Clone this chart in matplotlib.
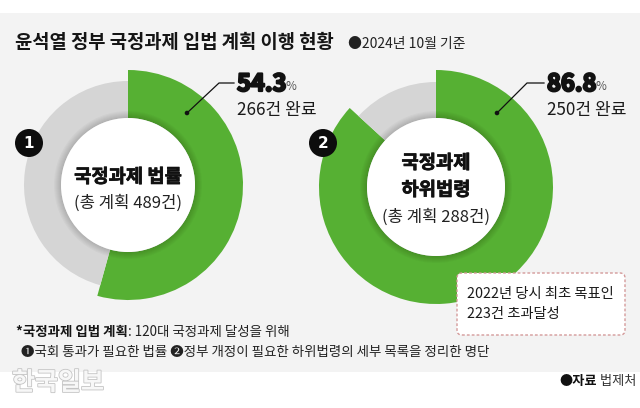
import matplotlib.pyplot as plt
from matplotlib.patches import Circle, Rectangle, FancyBboxPatch
import matplotlib.patheffects as pe

plt.rcParams['font.family'] = ['Noto Sans CJK KR', 'DejaVu Sans']

# data
categories = ['국정과제 법률', '국정과제\n하위법령']
total_plans = [489, 288]
completed = [266, 250]
rates = [54.3, 86.8]

title = '윤석열 정부 국정과제 입법 계획 이행 현황'
date_note = '●2024년 10월 기준'
note_box = '2022년 당시 최초 목표인\n223건 초과달성'
foot_bold = '*국정과제 입법 계획'
foot_rest = ': 120대 국정과제 달성을 위해'
foot_line2 = '❶국회 통과가 필요한 법률 ❷정부 개정이 필요한 하위법령의 세부 목록을 정리한 명단'
source_bold = '●자료'
source_rest = ' 법제처'

GREEN = '#56b033'
GREY = '#d5d5d5'
BG = '#f3f3f3'

W, H = 640, 408
fig = plt.figure(figsize=(W / 100, H / 100), dpi=100)
ax = fig.add_axes([0, 0, 1, 1])


def Y(y):
    return H - y


ax.add_patch(Rectangle((0, Y(372)), W, 372 - 13, facecolor=BG, edgecolor='none', zorder=0))

# donut layout: center x, center y, inner r, green outer r, grey outer r
layout = [(128, 185, 67, 115, 104), (436, 187, 69, 117, 105)]
badges = [(29, 143), (323, 143)]
leaders = [((187, 113), (219, 83), (234, 83)), ((497, 113), (527, 83), (544, 83))]

renderer = fig.canvas.get_renderer()


def text_w(t):
    # width of a text artist in pixels (= data units here)
    bb = t.get_window_extent(renderer=renderer)
    return bb.width


bold_fx = [pe.withStroke(linewidth=0.5, foreground='#111111')]

for i, (cx, cy, rin, rg, rgy) in enumerate(layout):
    vals = [rates[i], 100 - rates[i]]
    ax.pie(vals, colors=[GREEN, 'none'], radius=rg, center=(cx, Y(cy)),
           startangle=90, counterclock=False,
           wedgeprops=dict(width=rg - rin, linewidth=0))
    ax.pie(vals, colors=['none', GREY], radius=rgy, center=(cx, Y(cy)),
           startangle=90, counterclock=False,
           wedgeprops=dict(width=rgy - rin, linewidth=0))
    # soft shadow around the centre disc
    for k in range(1, 8):
        ax.add_patch(Circle((cx, Y(cy)), rin + k, facecolor='black', alpha=0.025,
                            edgecolor='none', zorder=3))
    ax.add_patch(Circle((cx, Y(cy)), rin, facecolor='white', edgecolor='none', zorder=4))

    # centre labels
    lines = categories[i].split('\n')
    if len(lines) == 1:
        ax.text(cx, Y(cy - 8), lines[0], ha='center', va='center', fontsize=13.5,
                fontweight='bold', color='#111111', zorder=5, path_effects=bold_fx)
        ax.text(cx, Y(cy + 18), '(총 계획 %d건)' % total_plans[i], ha='center',
                va='center', fontsize=12, color='#222222', zorder=5)
    else:
        ax.text(cx, Y(cy - 24), lines[0], ha='center', va='center', fontsize=13.5,
                fontweight='bold', color='#111111', zorder=5, path_effects=bold_fx)
        ax.text(cx, Y(cy + 3), lines[1], ha='center', va='center', fontsize=13.5,
                fontweight='bold', color='#111111', zorder=5, path_effects=bold_fx)
        ax.text(cx, Y(cy + 30), '(총 계획 %d건)' % total_plans[i], ha='center',
                va='center', fontsize=12, color='#222222', zorder=5)

    # number badge
    bx, by = badges[i]
    ax.add_patch(Circle((bx, Y(by)), 14, facecolor='#0d0d0d', edgecolor='none', zorder=6))
    ax.text(bx, Y(by), str(i + 1), ha='center', va='center', fontsize=11,
            fontweight='bold', color='white', zorder=7, family='DejaVu Sans')

    # leader line + percentage
    p0, p1, p2 = leaders[i]
    ax.plot([p0[0], p1[0], p2[0]], [Y(p0[1]), Y(p1[1]), Y(p2[1])], color='#111111',
            lw=0.9, zorder=6)
    ax.add_patch(Circle((p0[0], Y(p0[1])), 2.3, facecolor='#111111', edgecolor='none', zorder=6))
    tx = p2[0] + 3
    t = ax.text(tx, Y(84), '%.1f' % rates[i], ha='left', va='center', fontsize=17,
                fontweight='heavy', color='#111111', zorder=6,
                path_effects=[pe.withStroke(linewidth=1.6, foreground='#111111')])
    ax.text(tx + text_w(t) - 1, Y(86), '%', ha='left', va='center', fontsize=8.5,
            color='#555555', zorder=6)
    ax.text(tx, Y(110), '%d건 완료' % completed[i], ha='left', va='center',
            fontsize=12.3, color='#1a1a1a', zorder=6)

# title
t = ax.text(15, Y(43), title, ha='left', va='center', fontsize=13.5, fontweight='bold',
            color='#151515')
ax.text(348, Y(44), date_note, ha='left', va='center', fontsize=10,
        color='#222222')

# dashed note box
ax.add_patch(FancyBboxPatch((457, Y(335)), 625 - 457, 335 - 273,
                            boxstyle='round,pad=0,rounding_size=5',
                            facecolor='white', edgecolor='#d49a9a', lw=1,
                            linestyle=(0, (2, 1.5)), zorder=8))
ax.text(467, Y(304), note_box, ha='left', va='center', fontsize=10.3,
        color='#1a1a1a', linespacing=1.5, zorder=9)

# footnotes
t = ax.text(16, Y(332), foot_bold, ha='left', va='center', fontsize=9.7,
            fontweight='bold', color='#151515')
ax.text(16 + text_w(t), Y(332), foot_rest, ha='left', va='center', fontsize=9.7,
        color='#222222')
ax.text(21, Y(352), foot_line2, ha='left', va='center', fontsize=9.7, color='#222222')

# watermark
ax.text(12, Y(383), '한국일보', ha='left', va='center', fontsize=18, fontweight='bold',
        color='#f7f7f7',
        path_effects=[pe.withStroke(linewidth=1.2, foreground='#c4c4c4')])

# source
t2 = ax.text(636, Y(381), source_rest, ha='right', va='center', fontsize=9.5,
             color='#333333')
ax.text(636 - text_w(t2), Y(381), source_bold, ha='right', va='center', fontsize=9.5,
        fontweight='bold', color='#111111')

ax.set_xlim(0, W)
ax.set_ylim(0, H)
ax.set_aspect('equal')
ax.axis('off')
fig.savefig('out.png', dpi=100, facecolor='white')
